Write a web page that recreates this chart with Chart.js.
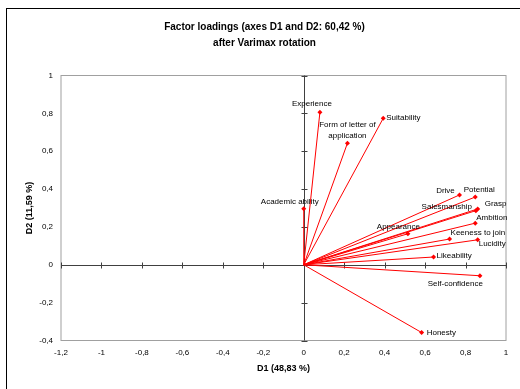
<!DOCTYPE html>
<html>
<head>
<meta charset="utf-8">
<script src="https://cdn.jsdelivr.net/npm/chart.js@4/dist/chart.umd.min.js"></script>
<style>
  html, body { margin: 0; padding: 0; background: #ffffff; }
  #wrap { width: 520px; height: 389px; position: relative; }
</style>
</head>
<body>
<div id="wrap"><canvas id="c" width="520" height="389"></canvas></div>
<script>
// ---- data ----
const chartTitle = ['Factor loadings (axes D1 and D2: 60,42 %)', 'after Varimax rotation'];
const xAxisTitle = 'D1 (48,83 %)';
const yAxisTitle = 'D2 (11,59 %)';
const variables = ['Experience', 'Form of letter of application', 'Suitability', 'Academic ability',
  'Drive', 'Potential', 'Grasp', 'Salesmanship', 'Ambition', 'Appearance',
  'Keeness to join', 'Lucidity', 'Likeability', 'Self-confidence', 'Honesty'];
const d1 = [0.08, 0.216, 0.393, 0.0, 0.77, 0.848, 0.86, 0.851, 0.848, 0.515, 0.721, 0.86, 0.642, 0.871, 0.583];
const d2 = [0.806, 0.642, 0.774, 0.296, 0.369, 0.358, 0.295, 0.286, 0.22, 0.164, 0.136, 0.132, 0.041, -0.058, -0.358];
const xRange = [-1.2, 1];
const yRange = [-0.4, 1];
const tickStep = 0.2;

// ---- label placement (style only) ----
const labelPlacement = [
  {dx: -8, dy: -8, align: 'center'},
  {dx: 0, dy: -7.5, align: 'center', wrap: true},
  {dx: 3, dy: 0, align: 'left'},
  {dx: -14, dy: -7, align: 'center'},
  {dx: -14, dy: -4, align: 'center'},
  {dx: 4, dy: -7, align: 'center'},
  {dx: 7, dy: -5, align: 'left'},
  {dx: -4, dy: -4, align: 'right'},
  {dx: 1, dy: -5, align: 'left'},
  {dx: -9.5, dy: -7, align: 'center'},
  {dx: 1, dy: -6, align: 'left'},
  {dx: 1, dy: 4, align: 'left'},
  {dx: 3, dy: -1, align: 'left'},
  {dx: 3, dy: 8, align: 'right'},
  {dx: 5, dy: 0, align: 'left'}
];

const fmt = v => {
  const r = Math.round(v * 10) / 10;
  return String(Object.is(r, -0) ? 0 : r).replace('.', ',');
};

const datasets = variables.map((name, i) => ({
  label: name,
  data: [{x: 0, y: 0}, {x: d1[i], y: d2[i]}],
  showLine: true,
  borderColor: '#ff0000',
  borderWidth: 1,
  backgroundColor: '#ff0000',
  pointBackgroundColor: '#ff0000',
  pointBorderColor: '#ff0000',
  pointStyle: 'rectRot',
  pointRadius: [0, 2.5],
  pointBorderWidth: 0,
  tension: 0
}));

const framePlugin = {
  id: 'frame',
  beforeDraw(chart) {
    const ctx = chart.ctx;
    ctx.save();
    ctx.fillStyle = '#ffffff';
    ctx.fillRect(0, 0, chart.width, chart.height);
    ctx.strokeStyle = '#000000';
    ctx.lineWidth = 1;
    ctx.strokeRect(6.5, 8.5, 700, 700);
    ctx.restore();
  },
  beforeDatasetsDraw(chart) {
    const ctx = chart.ctx;
    const a = chart.chartArea;
    const xs = chart.scales.x, ys = chart.scales.y;
    ctx.save();
    ctx.strokeStyle = '#a0a0a0';
    ctx.lineWidth = 1;
    ctx.strokeRect(a.left, a.top, a.right - a.left, a.bottom - a.top);
    const x0 = Math.round(xs.getPixelForValue(0)) + 0.5;
    const y0 = Math.round(ys.getPixelForValue(0)) + 0.5;
    ctx.strokeStyle = '#404040';
    ctx.beginPath();
    ctx.moveTo(a.left, y0); ctx.lineTo(a.right, y0);
    ctx.moveTo(x0, a.top); ctx.lineTo(x0, a.bottom);
    xs.ticks.forEach(t => {
      const px = Math.round(xs.getPixelForValue(t.value)) + 0.5;
      ctx.moveTo(px, y0 - 3); ctx.lineTo(px, y0 + 3);
    });
    ys.ticks.forEach(t => {
      const py = Math.round(ys.getPixelForValue(t.value)) + 0.5;
      ctx.moveTo(x0 - 3, py); ctx.lineTo(x0 + 3, py);
    });
    ctx.stroke();
    ctx.restore();
  },
  afterDatasetsDraw(chart) {
    const ctx = chart.ctx;
    ctx.save();
    ctx.font = '8px "Liberation Sans", Arial, sans-serif';
    ctx.fillStyle = '#000000';
    ctx.textBaseline = 'middle';
    variables.forEach((name, i) => {
      const meta = chart.getDatasetMeta(i);
      const pt = meta.data[1];
      const p = labelPlacement[i];
      ctx.textAlign = p.align;
      let lines = [name];
      if (p.wrap) {
        const k = name.lastIndexOf(' ');
        lines = [name.slice(0, k), name.slice(k + 1)];
      }
      const lh = 11;
      lines.forEach((ln, j) => {
        const yy = pt.y + p.dy - (lines.length - 1 - j) * lh;
        ctx.fillText(ln, pt.x + p.dx, yy);
      });
    });
    ctx.restore();
  }
};

new Chart(document.getElementById('c'), {
  type: 'scatter',
  data: { datasets },
  plugins: [framePlugin],
  options: {
    responsive: false,
    animation: false,
    events: [],
    layout: { padding: { left: 9, right: 0, top: 0, bottom: 0 } },
    plugins: {
      legend: { display: false },
      tooltip: { enabled: false },
      title: {
        display: true,
        text: chartTitle,
        color: '#000000',
        font: { family: '"Liberation Sans", Arial, sans-serif', size: 10, weight: 'bold', lineHeight: 1.6 },
        padding: { top: 19.5, bottom: 24 }
      }
    },
    scales: {
      x: {
        type: 'linear',
        min: xRange[0], max: xRange[1],
        grid: { display: false, drawTicks: false },
        border: { display: false },
        ticks: {
          stepSize: tickStep,
          padding: 7.4,
          color: '#000000',
          font: { family: '"Liberation Sans", Arial, sans-serif', size: 8 },
          callback: v => fmt(v)
        },
        title: {
          display: true, text: xAxisTitle, color: '#000000',
          font: { family: '"Liberation Sans", Arial, sans-serif', size: 9, weight: 'bold', lineHeight: 1.2 },
          padding: { top: 0, bottom: 14.6 }
        },
        afterFit: s => { s.height = 48.5; }
      },
      y: {
        type: 'linear',
        min: yRange[0], max: yRange[1],
        grid: { display: false, drawTicks: false },
        border: { display: false },
        ticks: {
          stepSize: tickStep,
          padding: 8,
          color: '#000000',
          font: { family: '"Liberation Sans", Arial, sans-serif', size: 8 },
          callback: v => fmt(v)
        },
        title: {
          display: true, text: yAxisTitle, color: '#000000',
          font: { family: '"Liberation Sans", Arial, sans-serif', size: 9, weight: 'bold', lineHeight: 1.2 },
          padding: { top: 15.6, bottom: 0 }
        },
        afterFit: s => { s.width = 52; }
      },
      yRight: {
        type: 'linear',
        position: 'right',
        display: true,
        grid: { display: false, drawTicks: false },
        border: { display: false },
        ticks: { display: false },
        afterFit: s => { s.width = 14; }
      }
    }
  }
});
</script>
</body>
</html>
